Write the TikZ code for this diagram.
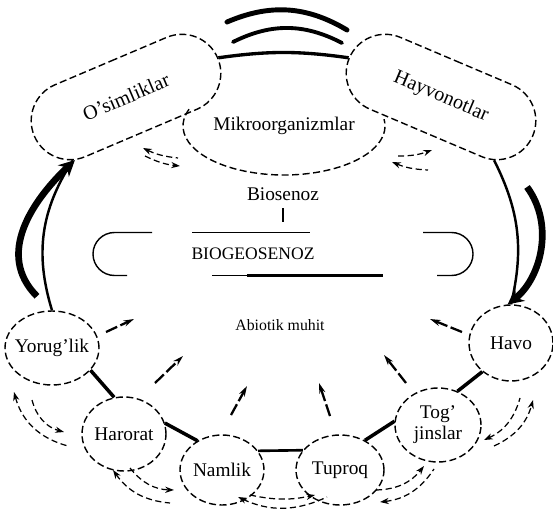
\documentclass[tikz,border=0pt]{standalone}
\usepackage{fontspec}
\setmainfont{Liberation Serif}
\usetikzlibrary{shapes.geometric,shapes.misc,arrows.meta,calc}

\tikzset{
  dsh/.style={line width=0.8pt, dash pattern=on 4pt off 2pt},
  oval/.style={dsh, draw, rounded rectangle, minimum width=4.22cm, minimum height=1.56cm, font=\fontsize{11.5}{13}\selectfont},
  blob/.style={dsh, draw, ellipse, inner sep=0pt},
  lbl/.style={font=\fontsize{11}{12}\selectfont},
  loopline/.style={line width=1.4pt},
  link/.style={line width=2pt},
  wave/.style={line cap=round},
  frame/.style={line width=0.8pt},
  big/.style={line width=3.8pt, -{Stealth[length=9pt,width=9pt]}},
  inarr/.style={line width=1.3pt, dash pattern=on 7pt off 2pt, -{Stealth[length=6pt,width=3.5pt]}},
  duo/.style={line width=0.7pt, dash pattern=on 3.5pt off 2pt},
  >={Stealth[length=5pt,width=3.5pt]},
}

\begin{document}
\begin{tikzpicture}[x=0.02cm, y=0.02cm]
    \useasboundingbox (0,0) rectangle (553,-509);

    % biotic part
    \node[oval, rotate=23] (osi) at (126,-97) {O'simliklar};
    \node[oval, rotate=-23] (hay) at (441,-97) {Hayvonotlar};
    \node[lbl] (mik) at (284,-126) {Mikroorganizmlar};
    \draw[dsh] (mik.center) ++(160:101 and 49) arc[start angle=160, end angle=368, x radius=101, y radius=49];
    \node[lbl] (bio) at (283,-194) {Biosenoz};
    \node[font=\fontsize{10}{12}\selectfont] (bgs) at (253,-254) {BIOGEOSENOZ};
    \node[font=\fontsize{9}{11}\selectfont] (abi) at (280,-325) {Abiotik muhit};

    % abiotic part
    \node[blob, minimum width=1.88cm, minimum height=1.48cm, label={[lbl]center:Yorug'lik}] (yor) at (52,-348) {};
    \node[blob, minimum width=1.68cm, minimum height=1.48cm, label={[lbl]center:Harorat}] (har) at (124,-434) {};
    \node[blob, minimum width=1.68cm, minimum height=1.40cm, label={[lbl]center:Namlik}] (nam) at (222,-470) {};
    \node[blob, minimum width=1.76cm, minimum height=1.40cm, label={[lbl]center:Tuproq}] (tup) at (340,-470) {};
    \node[blob, minimum width=1.72cm, minimum height=1.48cm, label={[lbl,align=center]center:{Tog'\\jinslar}}] (tog) at (438,-425) {};
    \node[blob, minimum width=1.68cm, minimum height=1.52cm, label={[lbl]center:Havo}] (hav) at (511,-343) {};

    % frame round BIOGEOSENOZ
    \draw[frame] ($(bgs)+(-101,21.5)$) -- ++(-37.5,0) arc[start angle=90, end angle=270, radius=21.5] -- ++(12.5,0);
    \draw[frame] ($(bgs)+(-61,21.5)$) -- ++(118,0);
    \draw[frame] ($(bgs)+(170,21.5)$) -- ++(28.5,0) arc[start angle=90, end angle=-90, radius=21.5] -- ++(-14.5,0);
    \draw[frame] ($(bgs)+(-41,-21.5)$) -- ++(35,0);
    \draw[frame, line width=1.3pt] ($(bgs)+(-6,-21.5)$) -- ++(136,0);
    \draw[line width=1.3pt] ([yshift=-1pt]bio.south) -- ++(0,-14);

    % the big loop
    \draw[line width=1.9pt] (osi.east) to[bend left=8] (hay.west);
    \draw[wave, line width=2.2pt] (233,-42) to[bend left=27] (342,-43);
    \draw[wave, line width=2.8pt] (227,-22) to[bend left=27] (347,-30);
    \draw[loopline] (osi.207) to[bend right=25] (yor.north);
    \draw[loopline] (hay.333) to[bend left=20] (hav.north);
    \draw[big] ([shift={(-15,14)}]yor.north) .. controls +(-42,42) and +(-42,-40) .. (osi.208);
    \draw[big] ([shift={(86,-90)}]hay.center) .. controls +(28,-38) and +(33,26) .. (hav.95);

    \draw[link] (yor.330) -- (har.105);
    \draw[link] (har.15) -- (nam.130);
    \draw[link, line width=1.5pt] (nam.28) -- (tup.152);
    \draw[link] (tup.50) -- (tog.175);
    \draw[link] (tog.60) -- (hav.225);

    % arrows into the middle
    \foreach \n/\a/\b/\c/\d in {yor/54/16/82/29, har/31/51/59/78, nam/9/55/25/84,
        tup/-10/54/-21/87, tog/-32/42/-54/70, hav/-49/11/-81/24}
        \draw[inarr] ([shift={(\a,\b)}]\n.center) -- ([shift={(\c,\d)}]\n.center);

    % two way arrows between neighbours
    \foreach \p/\a/\b/\q/\c/\d/\k in {yor/-38/-44/har/-56/-12/30, har/-11/-36/nam/-52/-33/25,
        nam/16/-27/tup/-13/-27/25, tup/40/-32/tog/-4/-44/25, tog/46/-15/hav/9/-55/25,
        osi/17/-51/mik/-106/-32/10, mik/108/-36/hay/-13/-73/10}
        \draw[duo, <-] ([shift={(\a,\b)}]\p.center) to[bend right=\k] ([shift={(\c,\d)}]\q.center);
    \foreach \p/\a/\b/\q/\c/\d/\k in {yor/-20/-52/har/-60/2/30, har/6/-34/nam/-48/-20/25,
        nam/28/-25/tup/-25/-25/12, tup/36/-20/tog/-14/-41/25, tog/56/-21/hav/22/-57/25,
        osi/19/-59/mik/-104/-40/10, mik/114/-30/hay/-9/-53/10}
        \draw[duo, ->] ([shift={(\a,\b)}]\p.center) to[bend right=\k] ([shift={(\c,\d)}]\q.center);
\end{tikzpicture}
\end{document}
